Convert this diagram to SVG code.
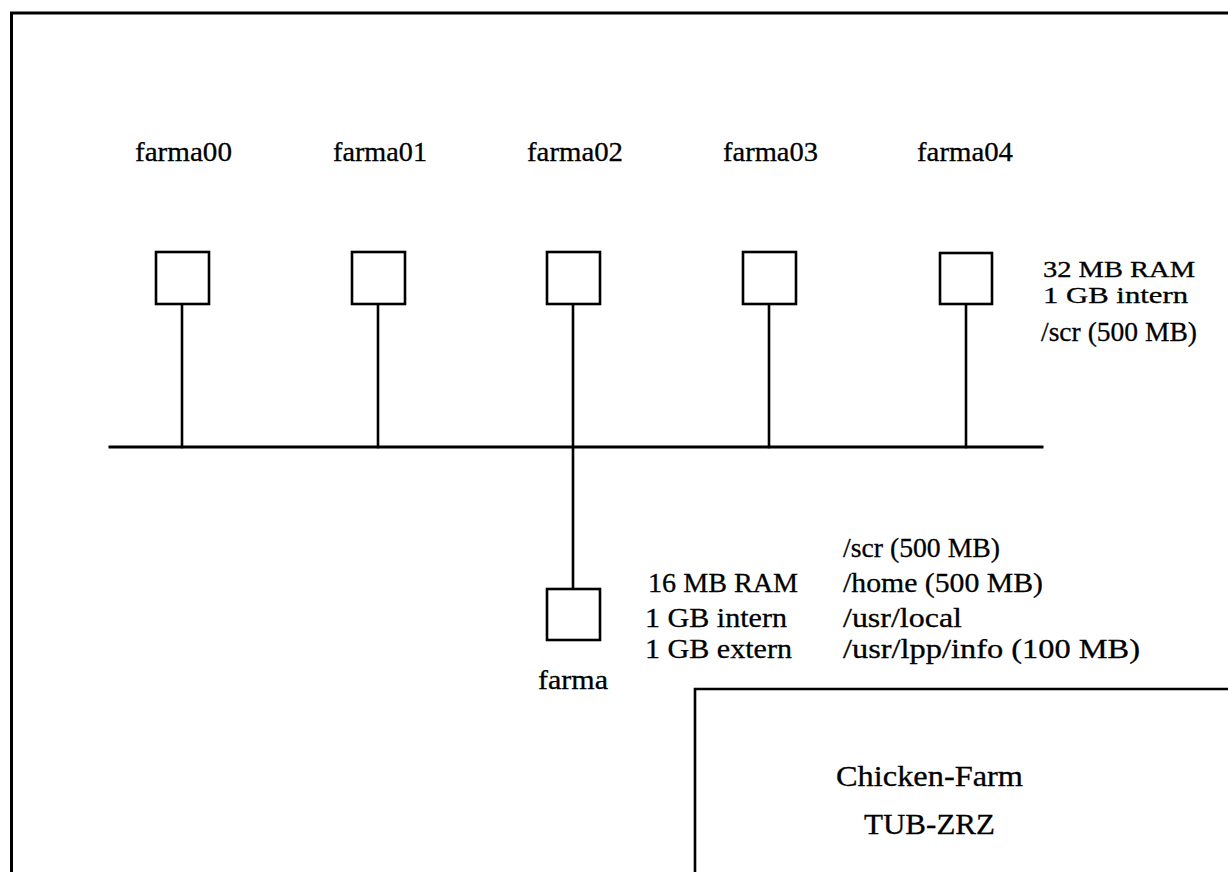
<svg xmlns="http://www.w3.org/2000/svg" width="1228" height="872" viewBox="0 0 1228 872">
<style>
  .ln { stroke: #000; fill: none; stroke-linecap: square; }
  .box { stroke: #000; stroke-width: 2.6; fill: #fff; }
  text { font-family: "Liberation Serif", "DejaVu Serif", serif; font-size: 28px; fill: #000; stroke: #000; stroke-width: 0.3; }
  .big { font-size: 30px; }
  .tight { font-size: 23px; }
</style>
<rect width="1228" height="872" fill="#fff"/>
<g id="frame">
  <path class="ln" stroke-width="3" d="M11.5 872 V13 H1228"/>
</g>
<g id="connectors">
  <line class="ln" stroke-width="3" x1="110" y1="447" x2="1042" y2="447"/>
  <line class="ln" stroke-width="2.6" x1="182" y1="304" x2="182" y2="447"/>
  <line class="ln" stroke-width="2.6" x1="378" y1="304" x2="378" y2="447"/>
  <line class="ln" stroke-width="2.6" x1="573" y1="304" x2="573" y2="589"/>
  <line class="ln" stroke-width="2.6" x1="769" y1="304" x2="769" y2="447"/>
  <line class="ln" stroke-width="2.6" x1="966" y1="304" x2="966" y2="447"/>
</g>
<g id="farma00">
  <rect class="box" x="156" y="252" width="53" height="52"/>
  <text x="135" y="161" textLength="97" lengthAdjust="spacingAndGlyphs">farma00</text>
</g>
<g id="farma01">
  <rect class="box" x="352" y="252" width="53" height="52"/>
  <text x="333" y="161" textLength="94" lengthAdjust="spacingAndGlyphs">farma01</text>
</g>
<g id="farma02">
  <rect class="box" x="547" y="252" width="53" height="52"/>
  <text x="527" y="161" textLength="96" lengthAdjust="spacingAndGlyphs">farma02</text>
</g>
<g id="farma03">
  <rect class="box" x="743" y="252" width="53" height="52"/>
  <text x="723" y="161" textLength="95" lengthAdjust="spacingAndGlyphs">farma03</text>
</g>
<g id="farma04">
  <rect class="box" x="940" y="253" width="52" height="51"/>
  <text x="917" y="161" textLength="96" lengthAdjust="spacingAndGlyphs">farma04</text>
</g>
<g id="cluster-info">
  <text class="tight" x="1043" y="277" textLength="152" lengthAdjust="spacingAndGlyphs">32 MB RAM</text>
  <text class="tight" x="1043" y="303" textLength="145" lengthAdjust="spacingAndGlyphs">1 GB intern</text>
  <text x="1041" y="341" textLength="156" lengthAdjust="spacingAndGlyphs">/scr (500 MB)</text>
</g>
<g id="farma">
  <rect class="box" x="547" y="589" width="53" height="51"/>
  <text x="538" y="689" textLength="70" lengthAdjust="spacingAndGlyphs">farma</text>
  <text x="648" y="592" textLength="150" lengthAdjust="spacingAndGlyphs">16 MB RAM</text>
  <text x="645" y="627" textLength="142" lengthAdjust="spacingAndGlyphs">1 GB intern</text>
  <text x="645" y="658" textLength="147" lengthAdjust="spacingAndGlyphs">1 GB extern</text>
  <text x="843" y="557" textLength="157" lengthAdjust="spacingAndGlyphs">/scr (500 MB)</text>
  <text x="843" y="592" textLength="200" lengthAdjust="spacingAndGlyphs">/home (500 MB)</text>
  <text x="843" y="627" textLength="119" lengthAdjust="spacingAndGlyphs">/usr/local</text>
  <text x="843" y="658" textLength="297" lengthAdjust="spacingAndGlyphs">/usr/lpp/info (100 MB)</text>
</g>
<g id="title-box">
  <path class="ln" stroke-width="2.6" d="M695 872 V689 H1228"/>
  <text class="big" x="836" y="786" textLength="187" lengthAdjust="spacingAndGlyphs">Chicken-Farm</text>
  <text class="big" x="864" y="834" textLength="131" lengthAdjust="spacingAndGlyphs">TUB-ZRZ</text>
</g>
</svg>
